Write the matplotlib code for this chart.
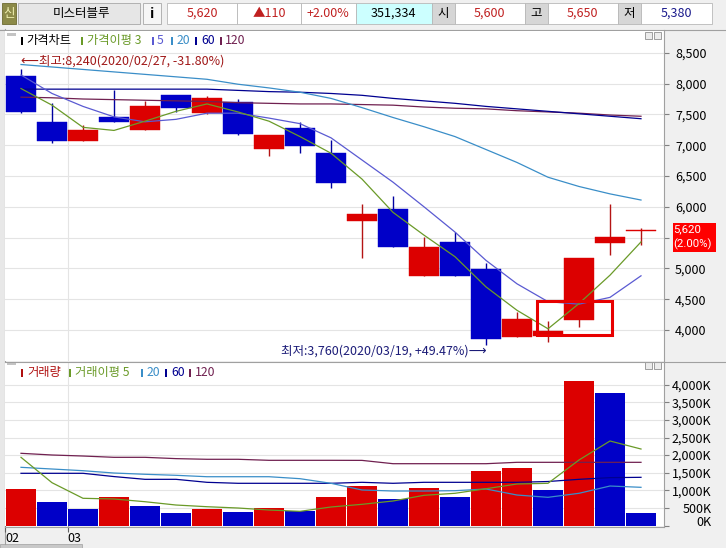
import numpy as np
import matplotlib
matplotlib.use("Agg")
import matplotlib.pyplot as plt
import matplotlib.transforms as mtransforms
from matplotlib.patches import Rectangle

plt.rcParams['font.family'] = ['Noto Sans CJK KR', 'DejaVu Sans']

W, H = 726, 548

stock_name = "미스터블루"
dates = ["2020/02/27", "2020/02/28", "2020/03/02", "2020/03/03", "2020/03/04",
         "2020/03/05", "2020/03/06", "2020/03/09", "2020/03/10", "2020/03/11",
         "2020/03/12", "2020/03/13", "2020/03/16", "2020/03/17", "2020/03/18",
         "2020/03/19", "2020/03/20", "2020/03/23", "2020/03/24", "2020/03/25",
         "2020/03/26"]

opens = [8120, 7380, 7070, 7460, 7250, 7820, 7530, 7700, 6940, 7280, 6870,
         5770, 5960, 4880, 5430, 4990, 3890, 3900, 4160, 5420, 5600]
highs = [8240, 7690, 7330, 7900, 7720, 7820, 7800, 7750, 7170, 7380, 7080,
         6050, 6180, 5510, 5590, 5080, 4300, 4140, 5170, 6050, 5650]
lows = [7520, 7040, 7070, 7370, 7250, 7540, 7510, 7170, 6830, 6880, 6300,
        5170, 5350, 4880, 4880, 3760, 3890, 3810, 4050, 5210, 5380]
closes = [7540, 7070, 7250, 7380, 7640, 7600, 7770, 7190, 7170, 6980, 6380,
          5880, 5350, 5350, 4880, 3860, 4180, 3980, 5170, 5510, 5620]

# price moving averages
ma3 = [7920, 7650, 7290, 7240, 7390, 7550, 7670, 7540, 7390, 7140, 6870,
       6450, 5910, 5540, 5190, 4700, 4320, 4020, 4430, 4890, 5430]
ma5 = [8140, 7840, 7630, 7460, 7380, 7420, 7520, 7520, 7440, 7350, 7120,
       6760, 6400, 6000, 5590, 5130, 4750, 4460, 4420, 4530, 4880]
ma20 = [8310, 8270, 8230, 8190, 8150, 8110, 8070, 7990, 7930, 7860, 7760,
        7610, 7450, 7300, 7140, 6930, 6720, 6480, 6330, 6210, 6110]
ma60 = [7910, 7910, 7910, 7910, 7910, 7910, 7910, 7890, 7870, 7860, 7840,
        7810, 7760, 7720, 7680, 7630, 7590, 7550, 7510, 7470, 7430]
ma120 = [7780, 7770, 7750, 7740, 7730, 7720, 7710, 7690, 7680, 7670, 7670,
         7660, 7650, 7620, 7600, 7590, 7560, 7540, 7520, 7490, 7470]

volumes = [1037000, 668000, 469000, 810000, 554000, 355000, 469000, 384000,
           497000, 412000, 810000, 1122000, 753000, 1065000, 810000, 1557000,
           1633000, 1017000, 4114000, 3764000, 351334]

# volume moving averages (thousand shares)
vma5 = [1937, 1216, 773, 753, 676, 582, 534, 497, 440, 403, 526, 602, 696,
        858, 915, 1045, 1179, 1199, 1861, 2401, 2173]
vma20 = [1653, 1605, 1557, 1491, 1455, 1426, 1386, 1386, 1386, 1330, 1199,
         1009, 980, 980, 989, 1037, 866, 801, 915, 1122, 1085]
vma60 = [1483, 1483, 1483, 1390, 1312, 1312, 1227, 1199, 1199, 1199, 1199,
         1227, 1199, 1227, 1227, 1227, 1227, 1250, 1312, 1360, 1369]
vma120 = [2051, 2003, 1974, 1937, 1937, 1900, 1881, 1881, 1852, 1852, 1852,
          1850, 1756, 1756, 1756, 1756, 1795, 1795, 1795, 1795, 1795]

price_ticks = list(range(4000, 8501, 500))
vol_ticks = list(range(0, 4000001, 500000))

# highlighted box (candle index span, price span)
box_x = (16.65, 19.05)
box_y = (3915, 4475)

RED = '#dc0000'
BLUE = '#0000c8'
RED_W = '#b41414'
BLUE_W = '#0000a0'
C_MA3 = '#6a9a28'
C_MA5 = '#5a5ad2'
C_MA20 = '#3a8ec8'
C_MA60 = '#000090'
C_MA120 = '#702050'
GRID = '#e4e4e4'
FRAME = '#a0a0a0'

n = len(closes)
x = np.arange(n)

fig = plt.figure(figsize=(W / 100, H / 100), dpi=100, facecolor='#f0f0f0')


def frac(x0, y0, x1, y1):
    return [x0 / W, 1 - y1 / H, (x1 - x0) / W, (y1 - y0) / H]


bg = fig.add_axes([0, 0, 1, 1], zorder=0)
bg.set_xlim(0, W)
bg.set_ylim(H, 0)
bg.axis('off')

ax = fig.add_axes(frac(5, 31, 664, 361), zorder=1)
axv = fig.add_axes(frac(5, 362, 664, 526), zorder=1)

fg = fig.add_axes([0, 0, 1, 1], zorder=3)
fg.set_xlim(0, W)
fg.set_ylim(H, 0)
fg.axis('off')
fg.patch.set_alpha(0)

xl = (-(21 - 5) / 31, (664 - 21) / 31)

# ---- price panel ----
ax.set_xlim(*xl)
ax.set_ylim(3497, 8854)
for a in (ax, axv):
    a.set_facecolor('white')
    for s in a.spines.values():
        s.set_visible(False)

for v in price_ticks:
    ax.axhline(v, color=GRID, lw=0.8, zorder=0)

month_pos = [i - 0.5 for i in range(n) if i == 0 or dates[i][5:7] != dates[i - 1][5:7]]
month_lab = [dates[i][5:7] for i in range(n) if i == 0 or dates[i][5:7] != dates[i - 1][5:7]]
for m in month_pos[1:]:
    ax.axvline(m, color=GRID, lw=0.8, zorder=0)
    axv.axvline(m, color=GRID, lw=0.8, zorder=0)

for i in range(n):
    up = closes[i] >= opens[i]
    ax.vlines(x[i], lows[i], highs[i], color=RED_W if up else BLUE_W, lw=1.0, zorder=2)
    lo_b = min(opens[i], closes[i])
    hgt = max(abs(closes[i] - opens[i]), 15)
    ax.bar(x[i], hgt, bottom=lo_b, width=0.96, color=RED if up else BLUE,
           edgecolor=RED if up else BLUE, lw=0.3, zorder=3)

ax.plot(x, ma120, color=C_MA120, lw=0.9, zorder=4)
ax.plot(x, ma60, color=C_MA60, lw=0.9, zorder=4)
ax.plot(x, ma20, color=C_MA20, lw=0.9, zorder=4)
ax.plot(x, ma5, color=C_MA5, lw=0.9, zorder=4)
ax.plot(x, ma3, color=C_MA3, lw=0.9, zorder=4)

ax.add_patch(Rectangle((box_x[0], box_y[0]), box_x[1] - box_x[0], box_y[1] - box_y[0],
                       fill=False, ec='#e80000', lw=2.2, zorder=6))

ax.yaxis.tick_right()
ax.set_yticks(price_ticks)
ax.set_yticklabels([f"{v:,}" for v in price_ticks])
ax.tick_params(axis='y', length=3.6, width=0.8, color='#808080', pad=4.3, labelsize=9)
ax.set_xticks([])

# high / low annotations
hi_i = int(np.argmax(highs))
lo_i = int(np.argmin(lows))
last = closes[-1]
hi_pct = (last - highs[hi_i]) / highs[hi_i] * 100
lo_pct = (last - lows[lo_i]) / lows[lo_i] * 100
ax.annotate(f"⟵최고:{highs[hi_i]:,}({dates[hi_i]}, {hi_pct:+.2f}%)", xy=(x[hi_i], highs[hi_i]),
            xytext=(0, 1), textcoords='offset pixels', ha='left', va='bottom',
            color='#a01818', fontsize=9, zorder=7)
ax.annotate(f"최저:{lows[lo_i]:,}({dates[lo_i]}, {lo_pct:+.2f}%)⟶", xy=(x[lo_i], lows[lo_i]),
            xytext=(0, 0), textcoords='offset pixels', ha='right', va='top',
            color='#1c1c78', fontsize=9, zorder=7)

# current price tag (red box on the axis at the last close)
prev = closes[-2]
chg = last - prev
pct = chg / prev * 100
px_per_won = (ax.transData.transform((0, 5000))[1] - ax.transData.transform((0, 4000))[1]) / 1000
ax_w_px = ax.get_window_extent().width
blend = mtransforms.blended_transform_factory(ax.transAxes, ax.transData)
ax.add_patch(Rectangle((1.0 + 8.7 / ax_w_px, last - 22 / px_per_won), 43 / ax_w_px, 29 / px_per_won,
                       transform=blend, fc='#ff0000', ec='none', clip_on=False, zorder=8))
tr1 = mtransforms.offset_copy(blend, fig=fig, x=9.5, y=1, units='dots')
tr2 = mtransforms.offset_copy(blend, fig=fig, x=9.5, y=-14.5, units='dots')
tag_font = ['Roboto', 'DejaVu Sans']
ax.text(1.0, last, f"{last:,}", transform=tr1, ha='left', va='center', color='white',
        fontsize=8.2, family=tag_font, clip_on=False, zorder=9)
ax.text(1.0, last, f"({pct:.2f}%)", transform=tr2, ha='left', va='center', color='white',
        fontsize=8.2, family=tag_font, clip_on=False, zorder=9)

# ---- volume panel ----
axv.set_xlim(*xl)
axv.set_ylim(-14000, 4645000)
for v in vol_ticks[1:]:
    axv.axhline(v, color=GRID, lw=0.8, zorder=0)

vcol = [RED] + [RED if volumes[i] >= volumes[i - 1] else BLUE for i in range(1, n)]
axv.bar(x, volumes, width=0.96, color=vcol, lw=0, zorder=2)

k = 1000
axv.plot(x, np.array(vma120) * k, color=C_MA120, lw=0.9, zorder=4)
axv.plot(x, np.array(vma60) * k, color=C_MA60, lw=0.9, zorder=4)
axv.plot(x, np.array(vma20) * k, color=C_MA20, lw=0.9, zorder=4)
axv.plot(x, np.array(vma5) * k, color=C_MA3, lw=0.9, zorder=4)

axv.yaxis.tick_right()
axv.set_yticks(vol_ticks)
axv.set_yticklabels([f"{v // 1000:,}K" for v in vol_ticks], ha='right')
axv.tick_params(axis='y', length=3.6, width=0.8, color='#808080', pad=30.5, labelsize=9)
axv.get_yticklabels()[0].set_va('baseline')

axv.set_xticks(month_pos)
axv.set_xticklabels(month_lab, ha='left')
axv.tick_params(axis='x', length=4, width=0.8, color='#606060', pad=0.5, labelsize=9)

# ---- chrome ----
bg.add_patch(Rectangle((0, 29), 4.5, 519, fc='#e8e8e8', ec='none'))
bg.plot([4.5, 4.5], [29, 544], color=FRAME, lw=0.8)
bg.plot([0, W], [29.5, 29.5], color=FRAME, lw=0.8)
bg.add_patch(Rectangle((0, 543.5), 82, 4.5, fc='#c8c8c8', ec='#a0a0a0', lw=0.5))

fg.plot([664, 664], [30, 527], color=FRAME, lw=0.8)
fg.plot([5, W], [361.5, 361.5], color=FRAME, lw=0.8)
fg.plot([5, 664], [526.5, 526.5], color=FRAME, lw=0.8)

for yy in (32, 361.5):
    fg.add_patch(Rectangle((7, yy + 0.5), 9, 3, fc='#c4c4c4', ec='none'))
    fg.add_patch(Rectangle((645, yy), 7, 7, fc='#ececec', ec='#909090', lw=0.6))
    fg.add_patch(Rectangle((654, yy), 7, 7, fc='#ececec', ec='#909090', lw=0.6))

# legends
def legend(items, yc):
    for xb, xt, label, col in items:
        fg.add_patch(Rectangle((xb, yc - 4), 2.2, 8, fc=col, ec='none'))
        fg.text(xt, yc, label, color=col, fontsize=8.8, ha='left', va='center')


legend([(21, 26, "가격차트", 'black'), (81, 87, "가격이평 3", C_MA3),
        (152, 156.5, "5", C_MA5), (171, 177, "20", C_MA20),
        (194.5, 201, "60", C_MA60), (220, 225, "120", C_MA120)], 40.7)
legend([(21, 27, "거래량", '#b01010'), (69, 75, "거래이평 5", C_MA3),
        (141, 147, "20", C_MA20), (165, 171.5, "60", C_MA60),
        (189, 195, "120", C_MA120)], 372.7)

# header bar
hy0, hy1 = 3, 24
hyc = (hy0 + hy1) / 2
bg.add_patch(Rectangle((2, hy0), 14, hy1 - hy0, fc='#8c8a48', ec='#6c6a30', lw=0.6))
bg.text(9, hyc, "신", color='#f0f0b0', ha='center', va='center', fontsize=9)
bg.add_patch(Rectangle((18, hy0), 122, hy1 - hy0, fc='#e6e6e6', ec='#a8a8a8', lw=0.6))
bg.text(82, hyc, stock_name, color='black', ha='center', va='center', fontsize=9)
bg.add_patch(Rectangle((143, hy0), 18, hy1 - hy0, fc='#f6f6f6', ec='#a8a8a8', lw=0.6))
bg.text(152, hyc, "i", color='black', ha='center', va='center', fontsize=10, fontweight='bold')

red_t = '#c02020'
fields = [
    (167, 237, f"{last:,}", red_t, 'white'),
    (237, 301, f"▲{chg:,}", red_t, 'white'),
    (301, 355.6, f"{pct:+.2f}%", red_t, 'white'),
    (355.6, 432, f"{volumes[-1]:,}", 'black', '#ccffff'),
    (432, 455, "시", 'black', '#d6d6d6'),
    (455, 524.5, f"{opens[-1]:,}", red_t, 'white'),
    (524.5, 547.7, "고", 'black', '#d6d6d6'),
    (547.7, 618, f"{highs[-1]:,}", red_t, 'white'),
    (618, 641, "저", 'black', '#d6d6d6'),
    (641, 712, f"{lows[-1]:,}", '#1a1a8c', 'white'),
]
for x0, x1, txt, tc, fc in fields:
    bg.add_patch(Rectangle((x0, hy0), x1 - x0, hy1 - hy0, fc=fc, ec='#b8b8b8', lw=0.6))
    bg.text((x0 + x1) / 2, hyc, txt, color=tc, ha='center', va='center', fontsize=9)

fig.savefig("out.png", dpi=100, facecolor=fig.get_facecolor())
